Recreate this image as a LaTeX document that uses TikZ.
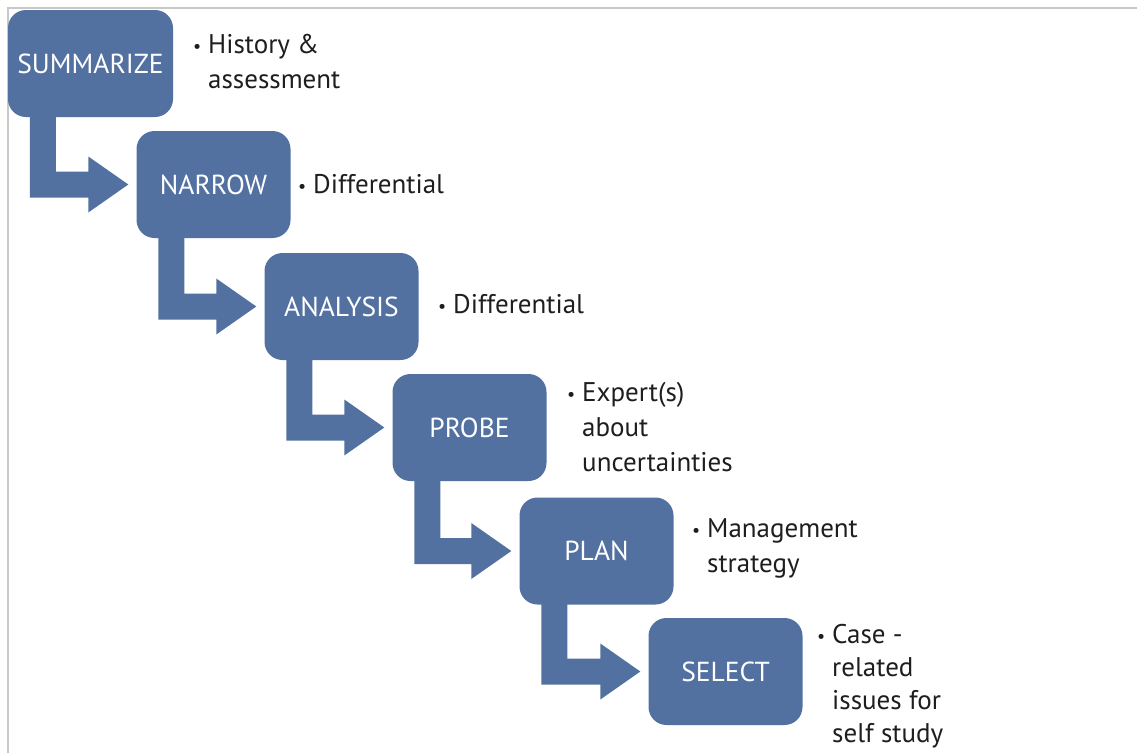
\documentclass[tikz,border=0pt]{standalone}
\usepackage{fontspec}
\setmainfont{PT Sans}
\usetikzlibrary{calc}
\definecolor{boxblue}{RGB}{82,113,160}
\definecolor{txtgray}{RGB}{30,30,30}
\definecolor{framegray}{RGB}{200,200,200}
\newcommand{\bul}{\llap{{\fontsize{18}{18}\selectfont\raisebox{1pt}{\textbullet}}\hspace{7pt}}}
\newcommand{\steparrow}[2]{%
  \fill[boxblue] ($(#1.south west)+(22,-2)$) -- ($(#1.south west)+(48,-2)$)
    |- ($(#2.west)+(-48,-13)$) -- ($(#2.west)+(-48,-28)$) -- ($(#2.west)+(-8,0)$)
    -- ($(#2.west)+(-48,28)$) -- ($(#2.west)+(-48,13)$)
    -| ($(#1.south west)+(22,-2)$) -- cycle;}
\begin{document}
\begin{tikzpicture}[x=1pt,y=-1pt,
  stepbox/.style={fill=boxblue, rounded corners=18pt, minimum width=154pt,
    minimum height=107pt, inner sep=0pt, text=white,
    font=\fontsize{27.5}{35}\selectfont},
  desc/.style={anchor=base west, inner sep=0pt, text=txtgray,
    font=\fontsize{27}{35}\selectfont}]
\useasboundingbox (0,0) rectangle (1137,753);
\fill[white] (0,0) rectangle (1137,753);
\draw[framegray, line width=2pt] (8,753) -- (8,8) -- (1137,8);

\node[stepbox, minimum width=165pt] (s1) at (90.5,63.5) {SUMMARIZE};
\node[stepbox] (s2) at (213.5,184.5) {NARROW};
\node[stepbox] (s3) at (341.5,306.5) {ANALYSIS};
\node[stepbox] (s4) at (469.5,427.5) {PROBE};
\node[stepbox] (s5) at (596.5,551) {PLAN};
\node[stepbox] (s6) at (725.5,671.5) {SELECT};

\steparrow{s1}{s2}
\steparrow{s2}{s3}
\steparrow{s3}{s4}
\steparrow{s4}{s5}
\steparrow{s5}{s6}

\node[desc] (d1) at (208,53) {\bul\begin{tabular}[t]{@{}l@{}}History \&\\assessment\end{tabular}};
\node[desc] (d2) at (313,193) {\bul Differential};
\node[desc] (d3) at (453,313) {\bul Differential};
\node[desc] (d4) at (582,401) {\bul\begin{tabular}[t]{@{}l@{}}Expert(s)\\about\\uncertainties\end{tabular}};
\node[desc] (d5) at (707,537) {\bul\begin{tabular}[t]{@{}l@{}}Management\\strategy\end{tabular}};
\node[desc, font=\fontsize{27}{33.3}\selectfont] (d6) at (832,643) {\bul\begin{tabular}[t]{@{}l@{}}Case -\\related\\issues for\\self study\end{tabular}};
\end{tikzpicture}
\end{document}
